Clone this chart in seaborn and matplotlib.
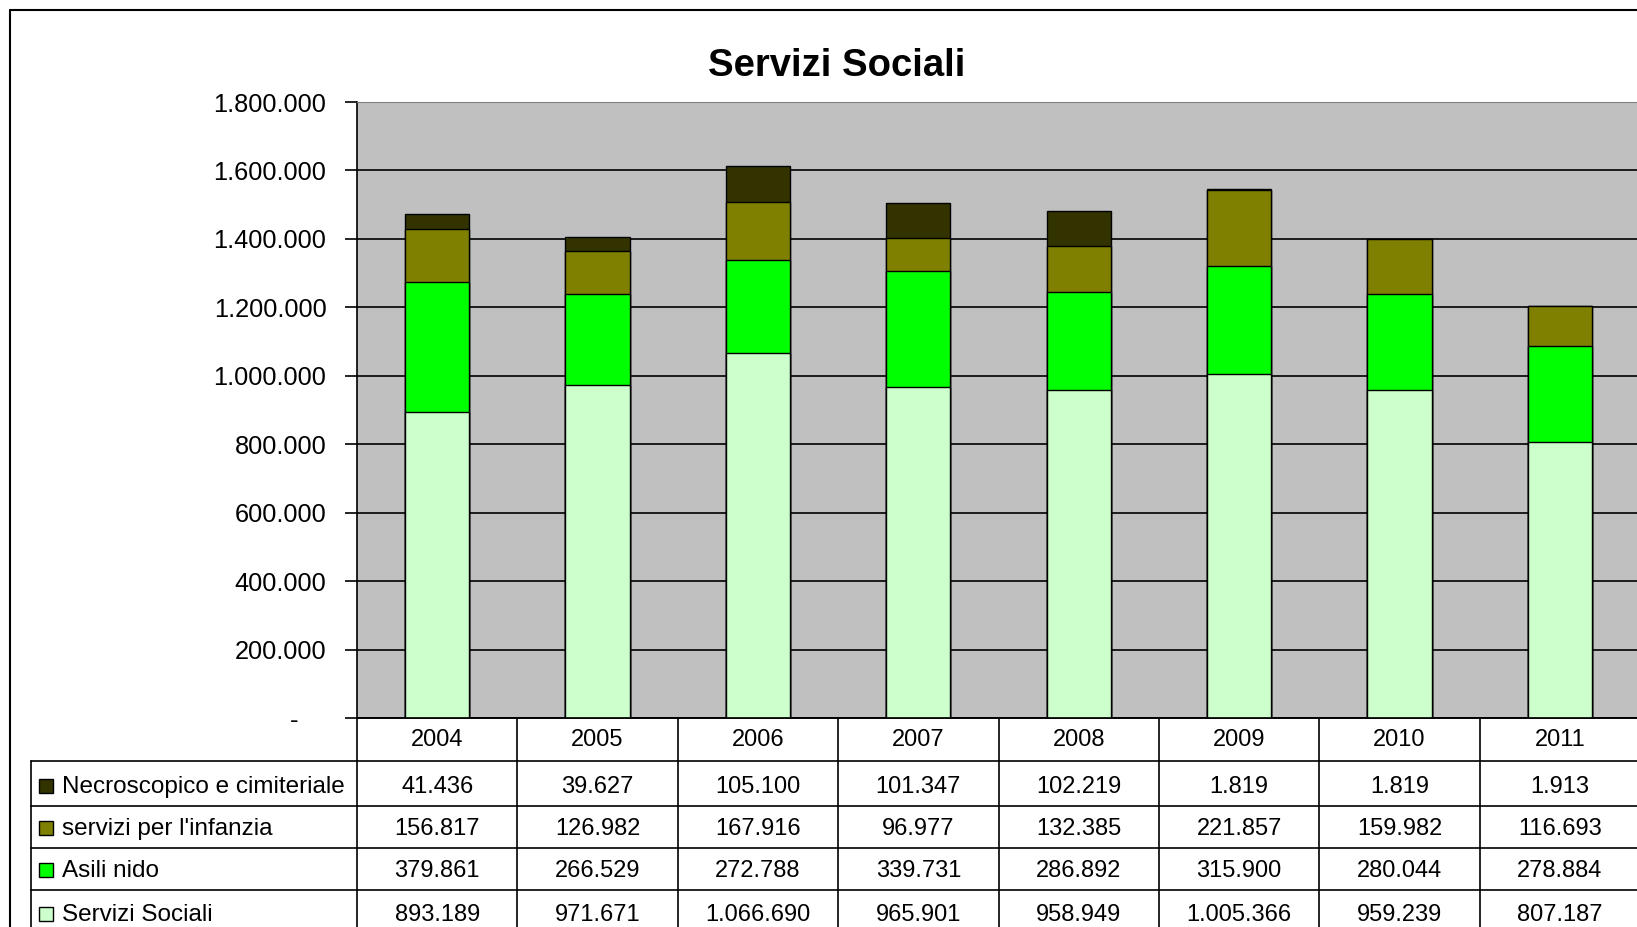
import numpy as np
import pandas as pd
import seaborn as sns
import matplotlib.pyplot as plt
from matplotlib.patches import Rectangle

sns.set_style("white")
plt.rcParams['font.family'] = ['Liberation Sans', 'DejaVu Sans']
plt.rcParams['text.color'] = 'black'
plt.rcParams['ytick.color'] = 'black'

# dati (euro)
anni = ['2004', '2005', '2006', '2007', '2008', '2009', '2010', '2011']
necroscopico = [41436, 39627, 105100, 101347, 102219, 1819, 1819, 1913]
infanzia = [156817, 126982, 167916, 96977, 132385, 221857, 159982, 116693]
asili = [379861, 266529, 272788, 339731, 286892, 315900, 280044, 278884]
sociali = [893189, 971671, 1066690, 965901, 958949, 1005366, 959239, 807187]

serie = ['Necroscopico e cimiteriale', "servizi per l'infanzia", 'Asili nido', 'Servizi Sociali']
valori = [necroscopico, infanzia, asili, sociali]
colori = ['#333300', '#808000', '#00FF00', '#CCFFCC']

def fmt(v):
    return '{:,}'.format(v).replace(',', '.')

W, H = 1637, 927
fig = plt.figure(figsize=(W / 100, H / 100), dpi=100)

# area del grafico in pixel
x0, x1, ytop, ybot = 357, 1640, 102, 718
ax = fig.add_axes([x0 / W, (H - ybot) / H, (x1 - x0) / W, (ybot - ytop) / H])
ax.set_facecolor('#C0C0C0')

# barre impilate: si disegnano i cumulati dal piu alto al piu basso
df = pd.DataFrame({'anno': anni, 'necro': necroscopico, 'inf': infanzia,
                   'asili': asili, 'soc': sociali})
df['c4'] = df['soc']
df['c3'] = df['c4'] + df['asili']
df['c2'] = df['c3'] + df['inf']
df['c1'] = df['c2'] + df['necro']
for col, c in zip(['c1', 'c2', 'c3', 'c4'], colori):
    sns.barplot(data=df, x='anno', y=col, color=c, saturation=1, width=0.4,
                edgecolor='black', linewidth=1, ax=ax, zorder=3)

ax.set_xlim(-0.5, len(anni) - 0.5)
ax.set_ylim(0, 1800000)
yt = np.arange(0, 1800001, 200000)
ax.set_yticks(yt)
ax.set_yticklabels(['-    '] + [fmt(int(v)) for v in yt[1:]], fontsize=18.3)
ax.yaxis.grid(True, color='black', linewidth=1.2)
ax.set_axisbelow(True)
ax.tick_params(axis='y', direction='out', length=9, width=1.2, pad=13, left=True)
ax.tick_params(axis='x', bottom=False, labelbottom=False)
ax.set_xlabel('')
ax.set_ylabel('')
ax.spines['left'].set_color('black')
ax.spines['left'].set_linewidth(1.2)
ax.spines['bottom'].set_color('black')
ax.spines['bottom'].set_linewidth(1.2)
ax.spines['top'].set_color('#808080')
ax.spines['right'].set_visible(False)

fig.text(837 / W, 1 - 66 / H, 'Servizi Sociali', ha='center', va='center',
         fontsize=27.5, fontweight='bold', color='black')

# tabella dati (overlay in pixel)
ov = fig.add_axes([0, 0, 1, 1], zorder=5)
ov.set_xlim(0, W)
ov.set_ylim(H, 0)
ov.axis('off')

colx = [ax.transData.transform((i - 0.5, 0))[0] for i in range(len(anni) + 1)]
rows_y = [718, 761, 806, 848, 890, 935]
lw = 1.2
# righe orizzontali
ov.plot([colx[0], W + 10], [rows_y[0]] * 2, color='black', lw=lw)
for y in rows_y[1:5]:
    ov.plot([31, W + 10], [y, y], color='black', lw=lw)
# colonne verticali
for x in colx:
    ov.plot([x, x], [rows_y[0], H + 5], color='black', lw=lw)
ov.plot([31, 31], [rows_y[1], H + 5], color='black', lw=lw)
# cornice esterna
ov.plot([10, 10], [10, H + 5], color='black', lw=1.5)
ov.plot([10, W + 5], [10, 10], color='black', lw=1.5)

# intestazione anni
for i, a in enumerate(anni):
    xc = (colx[i] + colx[i + 1]) / 2
    ov.text(xc, 740, a, ha='center', va='center', fontsize=17)

righe_yc = [787, 829, 871, 915]
for r, (nome, vals, c) in enumerate(zip(serie, valori, colori)):
    yc = righe_yc[r]
    ov.add_patch(Rectangle((39, yc - 8), 14, 14, facecolor=c, edgecolor='black', lw=1))
    ov.text(62, yc, nome, ha='left', va='center', fontsize=17.5)
    for i, v in enumerate(vals):
        xc = (colx[i] + colx[i + 1]) / 2
        ov.text(xc, yc, fmt(v), ha='center', va='center', fontsize=17)

fig.savefig('out.png', dpi=100)
